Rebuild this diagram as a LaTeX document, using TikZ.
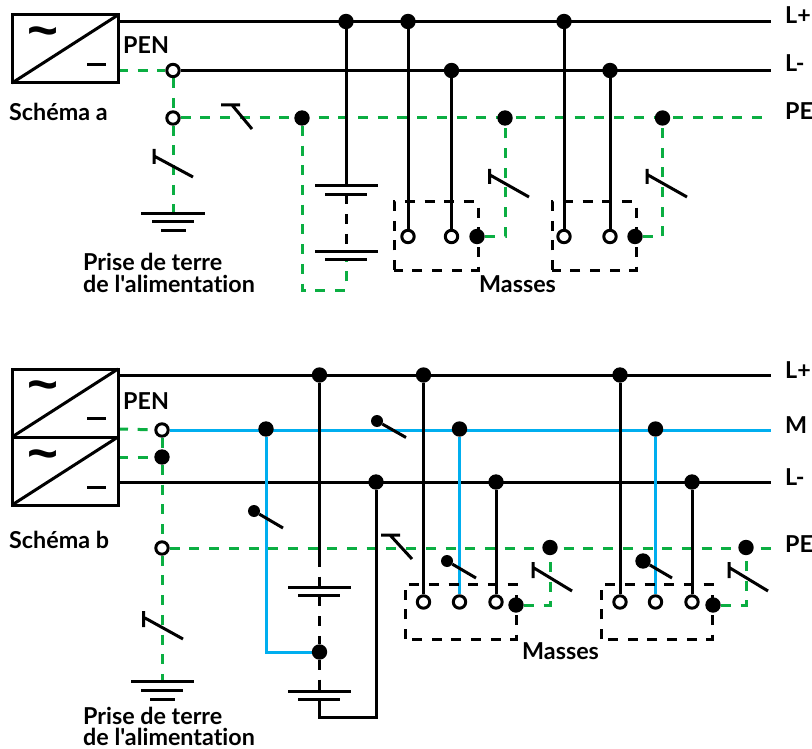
\documentclass[tikz,border=0pt]{standalone}
\usepackage{fontspec}
\setmainfont[Ligatures={TeXOff,NoCommon}]{Lato}
\newfontfamily\tildefont{Liberation Sans Bold}
\usetikzlibrary{backgrounds}
\definecolor{pegreen}{HTML}{0BAE42}
\definecolor{mblue}{HTML}{00AEEF}
\tikzset{
  jdot/.style={circle,fill=black,inner sep=0pt,minimum size=15.4pt},
  odot/.style={circle,draw=black,line width=3pt,fill=white,inner sep=0pt,minimum size=12.4pt},
  sdot/.style={circle,fill=black,inner sep=0pt,minimum size=12pt},
  wire/.style={line width=3pt,black},
  bluewire/.style={line width=3pt,mblue},
  pewire/.style={line width=3pt,pegreen,dash pattern=on 10pt off 9.7pt},
  blackdash/.style={line width=3pt,black,dash pattern=on 10pt off 9.7pt},
  plate/.style={line width=3pt,black},
  swline/.style={line width=3pt,black},
  lbl/.style={anchor=base west,inner sep=0pt,font=\fontsize{23.3}{25}\selectfont\bfseries},
  tildelbl/.style={inner sep=0pt,anchor=base,font=\tildefont\fontsize{53}{56}\selectfont},
  srcbox/.style={draw=black,line width=3pt}
}
\begin{document}
\begin{tikzpicture}[x=1pt,y=-1pt]
\useasboundingbox (0,0) rectangle (812,749);
%% ---------- Schema a : nodes
\node[jdot] (ap1) at (346,21.5) {};
\node[jdot] (ap2) at (408,21.5) {};
\node[jdot] (ap3) at (564,21.5) {};
\node[odot] (apen) at (173,70.5) {};
\node[jdot] (am1) at (451.5,70.5) {};
\node[jdot] (am2) at (610,70.5) {};
\node[odot] (apeo) at (173,118) {};
\node[jdot] (ape1) at (302,118) {};
\node[jdot] (ape2) at (505,118) {};
\node[jdot] (ape3) at (662.5,118) {};
\node[odot] (ac1) at (408,236.5) {};
\node[odot] (ac2) at (451.5,236.5) {};
\node[odot] (ac3) at (564,236.5) {};
\node[odot] (ac4) at (610,236.5) {};
\node[jdot] (am3) at (477,236.5) {};
\node[jdot] (am4) at (635,236.5) {};
\coordinate (as1) at (118,21.5);
\coordinate (as2) at (118,70.5);
\coordinate (aLp) at (771,21.5);
\coordinate (aLm) at (771,70.5);
\coordinate (aPE) at (771,118);
\coordinate (agnd) at (173,213.5);
\coordinate (abt1) at (346,186);
\coordinate (abt2) at (346,194.5);
\coordinate (abt3) at (346,251);
\coordinate (abt4) at (346,259.5);
\coordinate (abtc) at (346,290);
\coordinate (abtd) at (302,290);
\coordinate (ag1) at (505,236.5);
\coordinate (ag2) at (662.5,236.5);
%% Schema a : wires
\begin{pgfonlayer}{background}
\draw[pewire] (as2) -- (apen);
\draw[pewire] (apen) -- (apeo);
\draw[pewire] (apeo) -- (agnd);
\draw[pewire] (apeo) -- (aPE);
\draw[pewire] (ape1) -- (abtd) -- (abtc) -- (abt4);
\draw[pewire] (am3) -- (ag1) -- (ape2);
\draw[pewire] (am4) -- (ag2) -- (ape3);
\draw[wire] (as1) -- (aLp);
\draw[wire] (apen) -- (aLm);
\draw[wire] (ap1) -- (abt1);
\draw[blackdash] (abt2) -- (abt3);
\draw[wire] (ap2) -- (ac1);
\draw[wire] (am1) -- (ac2);
\draw[wire] (ap3) -- (ac3);
\draw[wire] (am2) -- (ac4);
\draw[blackdash] (394,270) -- (394,202) -- (478,202) -- (478,270) -- cycle;
\draw[blackdash] (552,270) -- (552,202) -- (636,202) -- (636,270) -- cycle;
\end{pgfonlayer}
\draw[srcbox] (12,15) rectangle (118,83);
\draw[line width=3pt] (12,83) -- (118,15);
\draw[plate] (87,65) -- (106,65);
\node[tildelbl] (atilde) at (43,49) {\char"7E};
\draw[plate] (141,213.5) -- (205,213.5) (152,222) -- (194,222) (161,231) -- (186,231);
\draw[plate] (315,186) -- (378,186) (325,194.5) -- (367,194.5);
\draw[plate] (315,251) -- (378,251) (325,259.5) -- (367,259.5);
\draw[swline] (154,149) -- (154,164) (154,156) -- (193,177);
\draw[swline] (221,105) -- (240,105) (232,105) -- (252,129);
\draw[swline] (489.5,169) -- (489.5,184) (490,175) -- (529,197);
\draw[swline] (647,169) -- (647,184) (648,175) -- (687,197);
\node[lbl] (lSa) at (9,121) {Schéma a};
\node[lbl] (lPa) at (123,54) {PEN};
\node[lbl] (lPr1) at (83,270) {Prise de terre};
\node[lbl] (lPr2) at (83,292) {de l'alimentation};
\node[lbl] (lMa) at (479,292) {Masses};
\node[lbl] (lLp) at (785,24) {L+};
\node[lbl] (lLm) at (785,72) {L-};
\node[lbl] (lPE) at (785,120) {PE};
%% ---------- Schema b : nodes
\node[jdot] (bp1) at (319.5,375) {};
\node[jdot] (bp2) at (423.5,375) {};
\node[jdot] (bp3) at (620,375) {};
\node[odot] (bpen) at (162,430) {};
\node[jdot] (bm1) at (266,429) {};
\node[jdot] (bm2) at (459.5,429) {};
\node[jdot] (bm3) at (655.5,429) {};
\node[jdot] (bj) at (162,457) {};
\node[jdot] (bn1) at (376,482) {};
\node[jdot] (bn2) at (496,482) {};
\node[jdot] (bn3) at (692,482) {};
\node[odot] (bpeo) at (162,548) {};
\node[jdot] (bpe1) at (550,547.5) {};
\node[jdot] (bpe2) at (746,547.5) {};
\node[jdot] (bmid) at (319.5,652) {};
\node[odot] (bc1) at (423.5,602) {};
\node[odot] (bc2) at (459.5,602) {};
\node[odot] (bc3) at (496,602) {};
\node[odot] (bc4) at (620,602) {};
\node[odot] (bc5) at (655.5,602) {};
\node[odot] (bc6) at (692,602) {};
\node[jdot] (bm4) at (516,605) {};
\node[jdot] (bm5) at (713,605) {};
\coordinate (bs1) at (118,375);
\coordinate (bs2) at (118,429);
\coordinate (bs3) at (118,457);
\coordinate (bs4) at (118,482);
\coordinate (bLp) at (771,375);
\coordinate (bM) at (771,430);
\coordinate (bLm) at (771,482);
\coordinate (bPE) at (771,548);
\coordinate (bgnd) at (162,681.5);
\coordinate (bbs) at (319.5,557);
\coordinate (bbt) at (319.5,699);
\coordinate (bbc) at (319.5,717);
\coordinate (bbd) at (376,717);
\coordinate (bbe) at (266,652);
\coordinate (bg1) at (550,605);
\coordinate (bg2) at (746,605);
\coordinate (bbp) at (319.5,691);
%% Schema b : wires
\begin{pgfonlayer}{background}
\draw[pewire] (bs2) -- (bpen);
\draw[pewire] (bs3) -- (bj);
\draw[pewire] (bpen) -- (bj);
\draw[pewire] (bj) -- (bpeo);
\draw[pewire] (bpeo) -- (bgnd);
\draw[pewire] (bpeo) -- (bPE);
\draw[pewire] (bm4) -- (bg1) -- (bpe1);
\draw[pewire] (bm5) -- (bg2) -- (bpe2);
\draw[bluewire] (bpen) -- (bM);
\draw[wire] (bs1) -- (bLp);
\draw[wire] (bs4) -- (bLm);
\draw[bluewire] (bm1) -- (bbe) -- (bmid);
\draw[bluewire] (bm2) -- (bc2);
\draw[bluewire] (bm3) -- (bc5);
\draw[wire] (bp1) -- (bbs);
\draw[blackdash] (bbs) -- (bmid);
\draw[blackdash] (bmid) -- (bbp);
\draw[wire] (bbt) -- (bbc) -- (bbd) -- (bn1);
\draw[wire] (bp2) -- (bc1);
\draw[wire] (bn2) -- (bc3);
\draw[wire] (bp3) -- (bc4);
\draw[wire] (bn3) -- (bc6);
\draw[blackdash] (405,639) -- (405,584) -- (516,584) -- (516,639) -- cycle;
\draw[blackdash] (601,639) -- (601,584) -- (712,584) -- (712,639) -- cycle;
\end{pgfonlayer}
\draw[srcbox] (12,369) rectangle (118,437);
\draw[srcbox] (12,437) rectangle (118,505);
\draw[line width=3pt] (12,437) -- (118,369) (12,505) -- (118,437);
\draw[plate] (87,418.5) -- (106,418.5) (87,487) -- (106,487);
\node[tildelbl] (btilde1) at (43,402) {\char"7E};
\node[tildelbl] (btilde2) at (43,471) {\char"7E};
\draw[plate] (131,681.5) -- (194,681.5) (141,690) -- (183,690) (150,699) -- (175,699);
\draw[plate] (288,587) -- (351,587) (298,595.5) -- (340,595.5);
\draw[plate] (288,691) -- (351,691) (298,699) -- (340,699);
\draw[swline] (143.5,611) -- (143.5,627) (145,618) -- (183,639);
\node[sdot] (bsw1) at (254,511) {};
\draw[swline] (bsw1) -- (283,528);
\node[sdot] (bsw2) at (377,421) {};
\draw[swline] (bsw2) -- (406,437.5);
\draw[swline] (381,535) -- (400,535) (390,535) -- (412,559);
\node[sdot] (bsw3) at (447,561) {};
\draw[swline] (bsw3) -- (476,578);
\node[jdot] (bsw4) at (643,561) {};
\draw[swline] (bsw4) -- (672,578);
\draw[swline] (533,562) -- (533,578) (534,568) -- (572,591);
\draw[swline] (729,562) -- (729,578) (730,568) -- (768,591);
\node[lbl] (lSb) at (9,548) {Schéma b};
\node[lbl] (lPb) at (123,409) {PEN};
\node[lbl] (lPs1) at (83,724) {Prise de terre};
\node[lbl] (lPs2) at (83,745) {de l'alimentation};
\node[lbl] (lMb) at (522,659) {Masses};
\node[lbl] (lLpb) at (785,378) {L+};
\node[lbl] (lMt) at (785,433) {M};
\node[lbl] (lLmb) at (785,485) {L-};
\node[lbl] (lPEb) at (785,552) {PE};
\end{tikzpicture}
\end{document}
